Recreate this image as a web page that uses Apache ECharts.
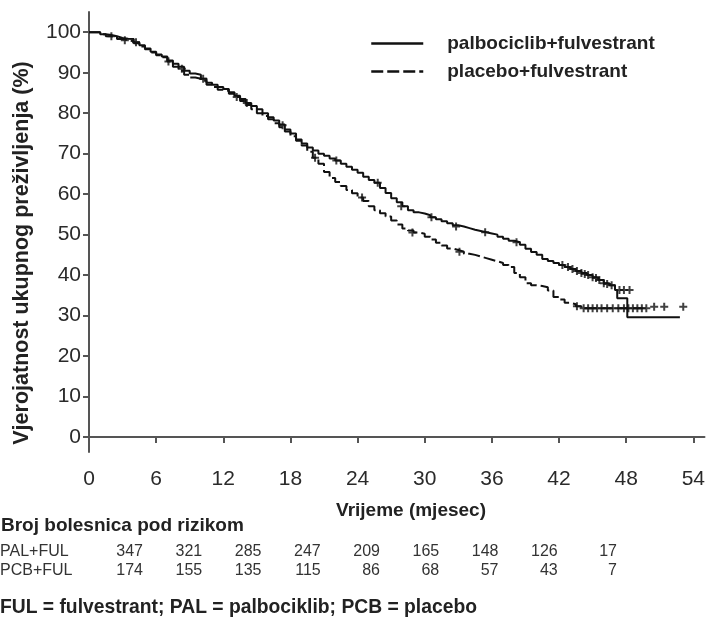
<!DOCTYPE html>
<html>
<head>
<meta charset="utf-8">
<script src="https://cdn.jsdelivr.net/npm/echarts@6/dist/echarts.min.js"></script>
<style>
html,body{margin:0;padding:0;background:#fff;}
#chart{width:708px;height:619px;}
</style>
</head>
<body>
<div id="chart"></div>
<script>
// ---- data ----
var seriesNames = ['palbociclib+fulvestrant', 'placebo+fulvestrant'];
var xTicks = [0, 6, 12, 18, 24, 30, 36, 42, 48, 54];
var yTicks = [0, 10, 20, 30, 40, 50, 60, 70, 80, 90, 100];

var palMonths = [0,0.5,1,1.5,2,2.5,3,3.5,4,4.5,5,5.5,6,6.5,7,7.5,8,8.5,9,9.5,10,10.5,11,11.5,12,12.5,13,13.5,14,14.5,15,15.5,16,16.5,17,17.5,18,18.5,19,19.5,20,20.5,21,21.5,22,22.5,23,23.5,24,24.5,25,25.5,26,26.5,27,27.5,28,28.5,29,29.5,30,30.5,31,31.5,32,32.5,33,33.5,34,34.5,35,35.5,36,36.5,37,37.5,38,38.5,39,39.5,40,40.5,41,41.5,42,42.5,43,43.5,44,44.5,45,45.5,46,46.5,47,47.2,48.1,52.8];
var palSurv = [100,100,99.5,99.3,99,98.6,98.4,98.3,97.5,96.8,96,95.2,94.5,94,93,92.2,91.5,90.5,89.8,89.5,88.5,87.5,87,86.5,86,85.2,84.3,83.5,82.5,81.8,81,80,79,78.2,77.2,76,75,73.5,72.5,71.5,70.8,70,69.5,68.8,68.3,67.5,66.8,66,65.3,64.3,63.5,62.8,61.5,60.3,59,58,57,56,55.5,55.2,54.8,54.3,53.8,53.3,52.8,52.3,52,51.6,51.2,50.9,50.6,50.3,50,49.5,49,48.5,48.1,47.5,46.5,45.7,45,44,43.5,43,42.5,42,41.5,41,40.5,40,39.5,38.8,38,37.5,36.3,34.3,29.6,29.6];

var pcbMonths = [0,0.5,1,1.5,2,2.5,3,3.5,4,4.5,5,5.5,6,6.5,7,7.5,8,8.5,9,9.5,10,10.5,11,11.5,12,12.5,13,13.5,14,14.5,15,15.5,16,16.5,17,17.5,18,18.5,19,19.5,20,20.5,21,21.5,22,22.5,23,23.5,24,24.5,25,25.5,26,26.5,27,27.5,28,28.5,29,29.5,30,30.5,31,31.5,32,32.5,33,33.5,34,34.5,35,35.5,36,36.5,37,37.5,38,38.5,39,39.5,40,40.5,41,41.5,42,42.5,43,43.5,44,49.5];
var pcbSurv = [100,100,99.5,99,98.8,98.3,98,97.8,97.3,96.5,95.8,95,94.3,93.8,92.8,91.5,90.5,89.5,88.8,88.5,88,87,86.5,85.8,85.5,84.8,84,83,82,81,80,79.3,78.5,77.5,76.5,75.5,74.3,73.2,72,70.5,69,67.5,65.5,64,63,62,61,60.2,59.2,58.3,57,56,55.3,54.5,53.5,52.5,51.5,51,50.5,50.2,49.5,48.8,48,47.3,46.6,46.2,45.8,45.3,45,44.6,44.2,43.8,43.4,43,42.5,42,40.5,39.5,38,37.5,37.3,37,36.2,34.6,34,33.2,32.8,32.3,31.8,31.8];

// censored observations (month, survival %)
var palCensMonths = [2,4.2,8.3,10.2,14.1,17.3,22.1,25.8,27.9,30.6,32.8,35.4,38.2,42.3,42.8,43.2,43.6,44,44.3,44.6,45,45.3,45.6,46,46.3,46.7,47.4,47.8,48.3];
var palCensSurv = [99,97.5,91,88.5,82.5,77,68.3,62.8,57,54.3,52,50.6,48.1,42.5,42,41.5,41,40.5,40.3,40,39.5,39.3,38.8,38,37.8,37.5,36.3,36.3,36.3];
var pcbCensMonths = [3.2,7.1,13.2,20.2,24.4,28.9,33.1,43.6,44.2,44.6,45,45.4,45.8,46.3,46.8,47.3,47.8,48.2,48.6,49,49.4,49.8,50.5,51.4,53.1];
var pcbCensSurv = [98,92.8,84,69,59.2,50.5,45.8,32.3,31.8,31.8,31.8,31.8,31.8,31.8,31.8,31.8,31.8,31.8,31.8,31.8,31.8,31.8,32.2,32.2,32.2];

var riskLabels = ['PAL+FUL', 'PCB+FUL'];
var riskPAL = [347, 321, 285, 247, 209, 165, 148, 126, 17];
var riskPCB = [174, 155, 135, 115, 86, 68, 57, 43, 7];

var yAxisTitle = 'Vjerojatnost ukupnog preživljenja (%)';
var xAxisTitle = 'Vrijeme (mjesec)';
var riskTitle = 'Broj bolesnica pod rizikom';
var footnote = 'FUL = fulvestrant; PAL = palbociklib; PCB = placebo';

// ---- build ----
function pairs(xs, ys) { return xs.map(function (x, i) { return [x, ys[i]]; }); }
var plus = 'path://M3,0H5V3H8V5H5V8H3V5H0V3H3Z';
var FONT = 'Liberation Sans, Arial, sans-serif';

var graphics = [];
graphics.push({ type: 'text', x: 22, y: 253, rotation: Math.PI / 2,
  style: { text: yAxisTitle, font: 'bold 21.5px ' + FONT, fill: '#222', align: 'center', verticalAlign: 'middle' } });
graphics.push({ type: 'text', x: 411, y: 511,
  style: { text: xAxisTitle, font: 'bold 19px ' + FONT, fill: '#222', align: 'center', verticalAlign: 'middle' } });
graphics.push({ type: 'text', x: 1, y: 526,
  style: { text: riskTitle, font: 'bold 19px ' + FONT, fill: '#222', verticalAlign: 'middle' } });
var rows = [riskPAL, riskPCB];
var rowY = [552, 571];
riskLabels.forEach(function (lab, r) {
  graphics.push({ type: 'text', x: 0, y: rowY[r], style: { text: lab, font: '16px ' + FONT, fill: '#333', verticalAlign: 'middle', align: 'left' } });
  rows[r].forEach(function (v, i) {
    graphics.push({ type: 'text', x: 143 + i * 59.25, y: rowY[r], style: { text: String(v), font: '16px ' + FONT, fill: '#333', verticalAlign: 'middle', align: 'right' } });
  });
});
graphics.push({ type: 'text', x: 0, y: 608, style: { text: footnote, font: 'bold 19.3px ' + FONT, fill: '#222', verticalAlign: 'middle' } });

var chart = echarts.init(document.getElementById('chart'), null, { renderer: 'canvas' });
chart.setOption({
  animation: false,
  backgroundColor: '#fff',
  grid: { left: 89, top: 12, right: 1, bottom: 167, containLabel: false },
  legend: {
    data: seriesNames,
    orient: 'vertical',
    left: 365, top: 29,
    itemWidth: 52, itemHeight: 14, itemGap: 9,
    itemStyle: { opacity: 0 },
    lineStyle: { width: 2.5 },
    textStyle: { fontFamily: FONT, fontWeight: 'bold', fontSize: 19, color: '#222', padding: [0, 0, 0, 19] }
  },
  xAxis: {
    type: 'value', min: 0, max: 55,
    axisLine: { show: true, lineStyle: { color: '#555', width: 2 } },
    axisTick: { show: true, inside: false, length: 6, customValues: xTicks, lineStyle: { color: '#555', width: 2 } },
    axisLabel: { customValues: xTicks, margin: 17, fontFamily: FONT, fontSize: 21, color: '#2a2a2a' },
    splitLine: { show: false }
  },
  yAxis: {
    type: 'value', min: -3.7, max: 105,
    axisLine: { show: true, lineStyle: { color: '#555', width: 2 } },
    axisTick: { show: true, length: 6, customValues: yTicks, lineStyle: { color: '#555', width: 2 } },
    axisLabel: { customValues: yTicks, margin: 8, fontFamily: FONT, fontSize: 21, color: '#2a2a2a' },
    splitLine: { show: false }
  },
  series: [
    { name: seriesNames[0], type: 'line', step: 'end', symbol: 'none', data: pairs(palMonths, palSurv),
      lineStyle: { color: '#111', width: 2, type: 'solid' }, itemStyle: { color: '#111' }, z: 3 },
    { name: seriesNames[1], type: 'line', step: 'end', symbol: 'none', data: pairs(pcbMonths, pcbSurv),
      lineStyle: { color: '#111', width: 2, type: [12, 4] }, itemStyle: { color: '#111' }, z: 3 },
    { name: 'palCens', type: 'scatter', symbol: plus, symbolSize: 8, data: pairs(palCensMonths, palCensSurv),
      itemStyle: { color: '#111' }, z: 4 },
    { name: 'pcbCens', type: 'scatter', symbol: plus, symbolSize: 8, data: pairs(pcbCensMonths, pcbCensSurv),
      itemStyle: { color: '#111' }, z: 4 }
  ],
  graphic: graphics
});
</script>
</body>
</html>
